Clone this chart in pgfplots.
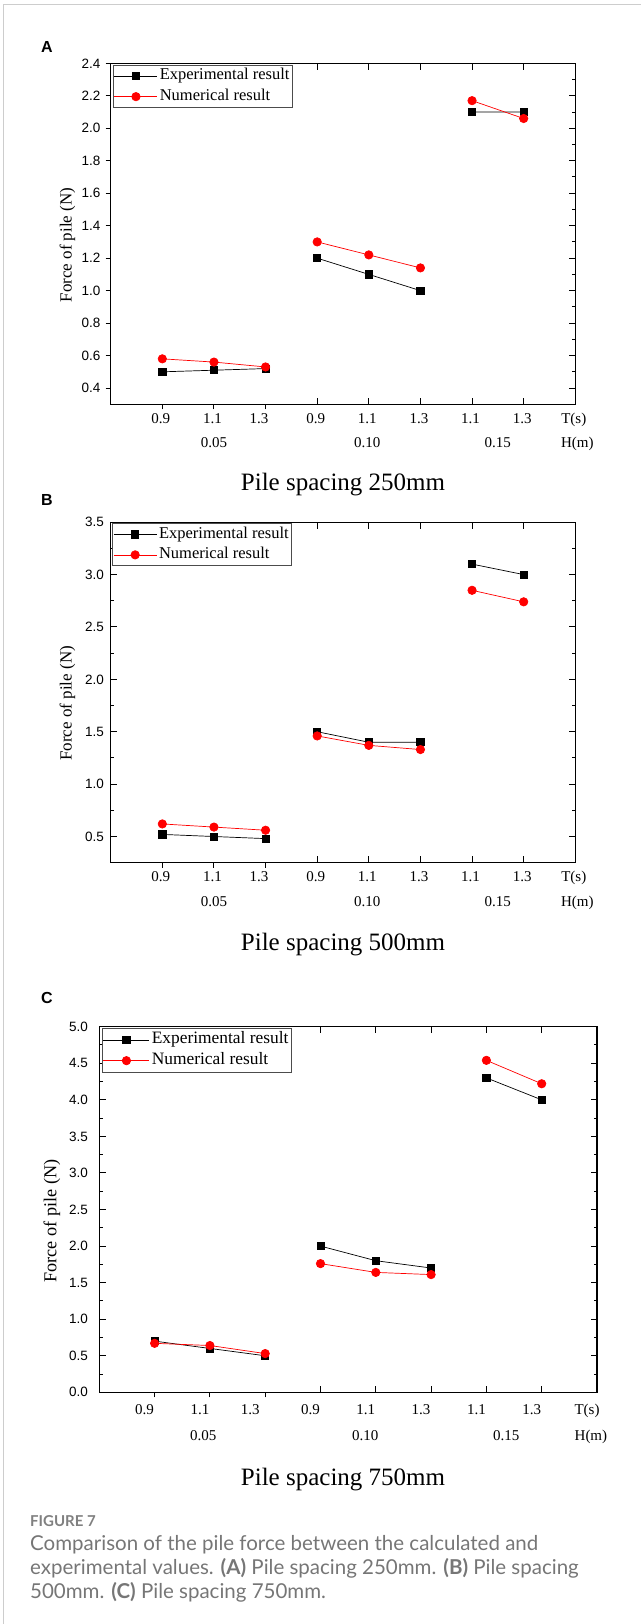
\documentclass[border=0pt]{standalone}
\usepackage{fontspec}
\setmainfont{Liberation Serif}
\newfontfamily\arial{Liberation Sans}
\newfontfamily\lato{Lato}
\usepackage{pgfplots}
\pgfplotsset{compat=1.18}
\definecolor{capgray}{RGB}{118,118,118}
\definecolor{figgray}{RGB}{128,128,128}
\definecolor{framegray}{RGB}{205,205,205}

\pgfplotsset{
  base/.style={scale only axis, xmin=0, xmax=9, clip=false,
    axis line style={line width=1.1pt},
    tick style={black, line width=1pt}},
  outax/.style={base, xtick={1,2,3}, xtick pos=left, xticklabels={},
    tick align=outside, major tick length=5pt},
  inax/.style={base, xtick={4,5,6,7,8}, xticklabels={0.9,1.1,1.3,1.1,1.3},
    extra x ticks={1,2,2.9,9}, extra x tick labels={0.9,1.1,1.3,T(s)},
    extra x tick style={major tick length=0pt},
    tick align=inside, minor y tick num=1,
    major tick length=6.5pt, minor tick length=3.5pt,
    xticklabel style={font=\fontsize{15}{17}\selectfont, anchor=base},
    unbounded coords=jump,
    legend cell align=left,
    legend image code/.code={\path (0pt,0pt) -- (43pt,0pt); \draw[mark repeat=2,mark phase=2,##1] plot coordinates {(3pt,0pt) (21.5pt,0pt) (40pt,0pt)};},
    legend style={anchor=north west, draw=black!70, line width=0.8pt, fill=white,
      inner xsep=0.5pt, inner ysep=0.5pt, font=\fontsize{16.5}{18}\selectfont,
      nodes={inner sep=2pt, text height=12pt, text depth=4.5pt}, row sep=0pt}},
  ylab/.style={every axis y label/.style={at={(axis description cs:#1)}, rotate=90, anchor=center, font=\fontsize{17}{20}\selectfont}},
  ytl/.style={yticklabel style={font=\arial\fontsize{13.5}{15}\selectfont, xshift=#1}},
  exp/.style={black, line width=0.7pt, mark=square*, mark size=3.6pt, mark options={solid, fill=black}},
  num/.style={red, line width=0.7pt, mark=*, mark size=4.2pt, mark options={solid, fill=red, draw=red}},
}

\begin{document}
\begin{tikzpicture}
\path[use as bounding box] (0pt,0pt) rectangle (641pt,-1624pt);
\draw[framegray, line width=1pt] (3.5pt,-1624pt) -- (3.5pt,-4.3pt) -- (641pt,-4.3pt);

% ---------------- Panel A ----------------
\node[font=\arial\bfseries\fontsize{16}{18}\selectfont] at (47pt,-46.7pt) {A};
\begin{axis}[outax, at={(110.7pt,-404.3pt)}, anchor=south west, width=464.6pt, height=341pt,
  ymin=0.3, ymax=2.4, ytick pos=left,
  ytick={0.4,0.6,0.8,1.0,1.2,1.4,1.6,1.8,2.0,2.2,2.4},
  yticklabels={0.4,0.6,0.8,1.0,1.2,1.4,1.6,1.8,2.0,2.2,2.4}, ytl=-1.7pt]
\end{axis}
\begin{axis}[inax, at={(110.7pt,-404.3pt)}, anchor=south west, width=464.6pt, height=341pt,
  ymin=0.3, ymax=2.4, ytick pos=right,
  ytick={0.4,0.6,0.8,1.0,1.2,1.4,1.6,1.8,2.0,2.2,2.4}, yticklabels={},
  xticklabel style={yshift=-19pt, xshift=-1.5pt},
  ylabel={Force of pile (N)}, ylab={-0.093,0.467},
  legend style={at={(axis description cs:0.0054,0.995)}}]
\addplot[exp] coordinates {(1,0.50) (2,0.51) (3,0.52) (3.5,nan) (4,1.20) (5,1.10) (6,1.00) (6.5,nan) (7,2.10) (8,2.10)};
\addlegendentry{Experimental result}
\addplot[num] coordinates {(1,0.58) (2,0.56) (3,0.53) (3.5,nan) (4,1.30) (5,1.22) (6,1.14) (6.5,nan) (7,2.17) (8,2.06)};
\addlegendentry{Numerical result}
\begin{scope}[every node/.style={anchor=base, font=\fontsize{15}{17}\selectfont}]
\node at (axis cs:2,0.3) [yshift=-43pt] {0.05};
\node at (axis cs:4.97,0.3) [yshift=-43pt] {0.10};
\node at (axis cs:7.5,0.3) [yshift=-43pt] {0.15};
\node at (axis cs:9.04,0.3) [yshift=-43pt] {H(m)};
\end{scope}
\end{axis}
\node[anchor=base, font=\fontsize{25}{28}\selectfont] at (343pt,-490.7pt) {Pile spacing 250mm};

% ---------------- Panel B ----------------
\node[font=\arial\bfseries\fontsize{16}{18}\selectfont] at (47pt,-500pt) {B};
\begin{axis}[outax, at={(110.7pt,-862.7pt)}, anchor=south west, width=464.6pt, height=340.5pt,
  ymin=0.25, ymax=3.5, ytick=\empty]
\end{axis}
\begin{axis}[inax, at={(110.7pt,-862.7pt)}, anchor=south west, width=464.6pt, height=340.5pt,
  ymin=0.25, ymax=3.5, ytick pos=both, yticklabel pos=left,
  ytick={0.5,1.0,1.5,2.0,2.5,3.0,3.5}, yticklabels={0.5,1.0,1.5,2.0,2.5,3.0,3.5}, ytl=-3.4pt,
  xticklabel style={yshift=-19pt, xshift=-1.5pt},
  ylabel={Force of pile (N)}, ylab={-0.093,0.468},
  legend style={at={(axis description cs:0.0037,0.997)}}]
\addplot[exp] coordinates {(1,0.52) (2,0.50) (3,0.48) (3.5,nan) (4,1.50) (5,1.40) (6,1.40) (6.5,nan) (7,3.10) (8,3.00)};
\addlegendentry{Experimental result}
\addplot[num] coordinates {(1,0.62) (2,0.59) (3,0.56) (3.5,nan) (4,1.46) (5,1.37) (6,1.33) (6.5,nan) (7,2.85) (8,2.74)};
\addlegendentry{Numerical result}
\begin{scope}[every node/.style={anchor=base, font=\fontsize{15}{17}\selectfont}]
\node at (axis cs:2,0.25) [yshift=-44pt] {0.05};
\node at (axis cs:4.97,0.25) [yshift=-44pt] {0.10};
\node at (axis cs:7.5,0.25) [yshift=-44pt] {0.15};
\node at (axis cs:9.04,0.25) [yshift=-44pt] {H(m)};
\end{scope}
\end{axis}
\node[anchor=base, font=\fontsize{25}{28}\selectfont] at (343pt,-950pt) {Pile spacing 500mm};

% ---------------- Panel C ----------------
\node[font=\arial\bfseries\fontsize{16}{18}\selectfont] at (47pt,-998.3pt) {C};
\begin{axis}[outax, at={(99.3pt,-1392.3pt)}, anchor=south west, width=497.7pt, height=365.6pt,
  ymin=0, ymax=5, ytick=\empty]
\end{axis}
\begin{axis}[inax, at={(99.3pt,-1392.3pt)}, anchor=south west, width=497.7pt, height=365.6pt,
  ymin=0, ymax=5, ytick pos=both, yticklabel pos=left,
  ytick={0,0.5,1.0,1.5,2.0,2.5,3.0,3.5,4.0,4.5,5.0}, yticklabels={0.0,0.5,1.0,1.5,2.0,2.5,3.0,3.5,4.0,4.5,5.0}, ytl=-8pt,
  extra x ticks={1,2,2.91,9}, 
  xticklabel style={yshift=-22pt, xshift=-10pt},
  ylabel={Force of pile (N)}, ylab={-0.095,0.4685},
  every axis y label/.append style={font=\fontsize{18.2}{21}\selectfont},
  legend image code/.code={\path (0pt,0pt) -- (46pt,0pt); \draw[mark repeat=2,mark phase=2,#1] plot coordinates {(3.3pt,0pt) (23pt,0pt) (42.8pt,0pt)};},
  legend style={at={(axis description cs:0.0058,0.9956)}, font=\fontsize{17.4}{19}\selectfont, inner ysep=1.2pt}]
\addplot[exp] coordinates {(1,0.70) (2,0.60) (3,0.50) (3.5,nan) (4,2.00) (5,1.80) (6,1.70) (6.5,nan) (7,4.30) (8,4.00)};
\addlegendentry{Experimental result}
\addplot[num] coordinates {(1,0.67) (2,0.64) (3,0.53) (3.5,nan) (4,1.76) (5,1.64) (6,1.61) (6.5,nan) (7,4.54) (8,4.22)};
\addlegendentry{Numerical result}
\begin{scope}[every node/.style={anchor=base, font=\fontsize{15}{17}\selectfont}]
\node at (axis cs:1.88,0) [yshift=-48.4pt] {0.05};
\node at (axis cs:4.81,0) [yshift=-48.4pt] {0.10};
\node at (axis cs:7.36,0) [yshift=-48.4pt] {0.15};
\node at (axis cs:8.89,0) [yshift=-48.4pt] {H(m)};
\end{scope}
\end{axis}
\node[anchor=base, font=\fontsize{25}{28}\selectfont] at (343pt,-1485.7pt) {Pile spacing 750mm};

% ---------------- Caption ----------------
\node[anchor=base west, font=\lato\bfseries\fontsize{15}{17}\selectfont, text=figgray, inner sep=0pt] at (30pt,-1526pt) {FIGURE 7};
\begin{scope}[every node/.style={anchor=base west, font=\lato\fontsize{20.5}{24}\selectfont, text=capgray, inner sep=0pt}]
\node at (30pt,-1550.7pt) {Comparison of the pile force between the calculated and};
\node at (30pt,-1574.5pt) {experimental values. \textbf{(A)} Pile spacing 250mm. \textbf{(B)} Pile spacing};
\node at (30pt,-1598.3pt) {500mm. \textbf{(C)} Pile spacing 750mm.};
\end{scope}
\end{tikzpicture}
\end{document}
